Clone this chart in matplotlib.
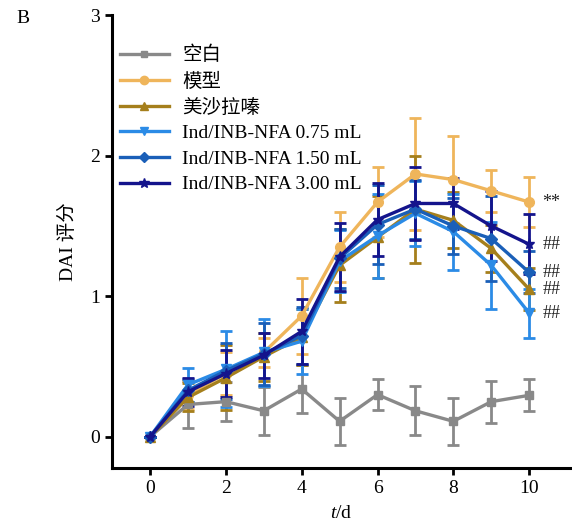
import matplotlib
matplotlib.use('Agg')
import matplotlib.pyplot as plt
from matplotlib.lines import Line2D

plt.rcParams['font.family'] = ['Liberation Serif', 'Noto Sans CJK SC']
plt.rcParams['mathtext.fontset'] = 'custom'
plt.rcParams['mathtext.it'] = 'Liberation Serif:italic'
plt.rcParams['mathtext.rm'] = 'Liberation Serif'

days = [0, 1, 2, 3, 4, 5, 6, 7, 8, 9, 10]

# 各组 DAI 均值与标准差
blank_mean = [0, 0.23, 0.25, 0.185, 0.34, 0.11, 0.30, 0.185, 0.11, 0.25, 0.295]
blank_sd = [0, 0.17, 0.14, 0.17, 0.17, 0.165, 0.11, 0.175, 0.165, 0.15, 0.115]

model_mean = [0, 0.30, 0.45, 0.60, 0.86, 1.35, 1.67, 1.87, 1.83, 1.75, 1.67]
model_sd = [0, 0.10, 0.15, 0.10, 0.27, 0.25, 0.25, 0.40, 0.31, 0.15, 0.18]

mesa_mean = [0, 0.28, 0.42, 0.57, 0.71, 1.22, 1.42, 1.62, 1.54, 1.34, 1.05]
mesa_sd = [0, 0.10, 0.23, 0.17, 0.20, 0.26, 0.29, 0.38, 0.20, 0.17, 0.15]

low_mean = [0, 0.37, 0.48, 0.60, 0.68, 1.25, 1.43, 1.59, 1.46, 1.22, 0.88]
low_sd = [0, 0.12, 0.27, 0.24, 0.23, 0.22, 0.30, 0.23, 0.27, 0.31, 0.175]

mid_mean = [0, 0.33, 0.47, 0.59, 0.72, 1.27, 1.51, 1.62, 1.50, 1.41, 1.17]
mid_sd = [0, 0.08, 0.20, 0.22, 0.20, 0.21, 0.28, 0.21, 0.20, 0.30, 0.15]

high_mean = [0, 0.32, 0.45, 0.58, 0.75, 1.28, 1.545, 1.66, 1.66, 1.50, 1.37]
high_sd = [0, 0.10, 0.17, 0.16, 0.23, 0.24, 0.26, 0.26, 0.18, 0.25, 0.215]

labels = ['空白', '模型', '美沙拉嗪', 'Ind/INB-NFA 0.75 mL',
          'Ind/INB-NFA 1.50 mL', 'Ind/INB-NFA 3.00 mL']
colors = ['#898989', '#EFB55B', '#A57F1C', '#2B8BE6', '#1A5FB8', '#14148C']
markers = ['s', 'o', '^', 'v', 'D', '*']
msizes = [6, 7, 7, 7, 6, 8]
means = [blank_mean, model_mean, mesa_mean, low_mean, mid_mean, high_mean]
sds = [blank_sd, model_sd, mesa_sd, low_sd, mid_sd, high_sd]

# 显著性标记（第 10 天）
sig_marks = ['**', '##', '##', '##', '##']
sig_values = [model_mean[-1], high_mean[-1], mid_mean[-1], mesa_mean[-1], low_mean[-1]]

fig = plt.figure(figsize=(5.72, 5.22), dpi=100)
ax = fig.add_axes([0.196, 0.104, 0.802, 0.867])

handles = []
for m, s, c, mk, ms, lb in zip(means, sds, colors, markers, msizes, labels):
    ax.errorbar(days, m, yerr=s, color=c, marker=mk, markersize=ms, lw=2.4,
                capsize=4, capthick=2, elinewidth=2)
    # 图例只显示线和标记，不带误差线
    handles.append(Line2D([], [], color=c, marker=mk, markersize=ms - 1, lw=2.4, label=lb))

for txt, v in zip(sig_marks, sig_values):
    ax.text(10.35, v, txt, fontsize=13, va='center', ha='left', color='#222222')

ax.set_xlim(-1.0, 11.1)
ax.set_ylim(-0.22, 3.0)
ax.set_xticks([0, 2, 4, 6, 8, 10])
ax.set_yticks([0, 1, 2, 3])
ax.spines['top'].set_visible(False)
ax.spines['right'].set_visible(False)
ax.spines['left'].set_linewidth(2.2)
ax.spines['bottom'].set_linewidth(2.2)
ax.tick_params(width=2, length=5, labelsize=14, direction='out')

ax.set_xlabel('$t$/d', fontsize=14, labelpad=6)
ax.set_ylabel('DAI 评分', fontsize=14, labelpad=10)

ax.legend(handles=handles, loc='upper left', bbox_to_anchor=(0.0, 0.949),
          frameon=False, fontsize=14, handlelength=2.5, handletextpad=0.7,
          labelspacing=0.41, borderaxespad=0)

fig.text(0.028, 0.955, 'B', fontsize=14)

plt.savefig('out.png', dpi=100)
